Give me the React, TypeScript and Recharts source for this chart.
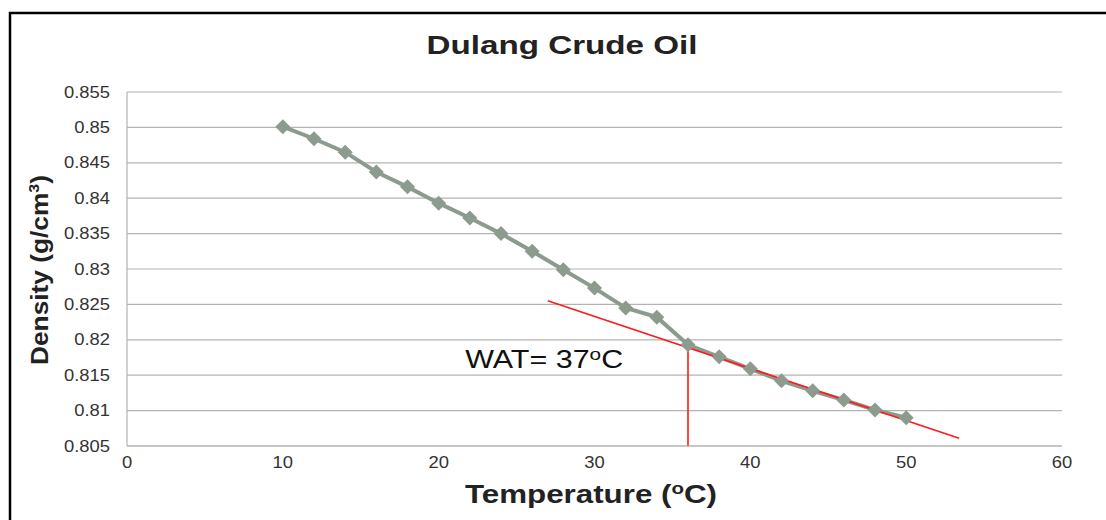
import {
  ComposedChart,
  Line,
  XAxis,
  YAxis,
  CartesianGrid,
  ReferenceLine,
  ReferenceDot,
} from "recharts";

// Measured density vs. temperature
const temperatures = [10, 12, 14, 16, 18, 20, 22, 24, 26, 28, 30, 32, 34, 36, 38, 40, 42, 44, 46, 48, 50];
const densities = [
  0.8501, 0.8484, 0.8465, 0.8437, 0.8416, 0.8393, 0.8372, 0.835, 0.8325, 0.8299, 0.8273,
  0.8245, 0.8232, 0.8193, 0.8176, 0.8159, 0.8142, 0.8128, 0.8115, 0.8101, 0.809,
];

// Hand-drawn tangent along the low-temperature tail and the WAT marker
const tangentStart = { x: 27.0, y: 0.8255 };
const tangentEnd = { x: 53.4, y: 0.8061 };
const watTemp = 36;
const watDensity = 0.8189;

const xTicks = [0, 10, 20, 30, 40, 50, 60];
const yTicks = [0.805, 0.81, 0.815, 0.82, 0.825, 0.83, 0.835, 0.84, 0.845, 0.85, 0.855];

const chartData = temperatures.map((t, i) => ({ temp: t, density: densities[i] }));

const LINE_COLOR = "#8d9b8f";
const FONT = "Arial, 'Liberation Sans', sans-serif";

const Diamond = (props: any) => {
  const { cx, cy } = props;
  if (cx == null || cy == null) return null;
  const r = 7.5;
  return (
    <path
      d={`M${cx},${cy - r} L${cx + r},${cy} L${cx},${cy + r} L${cx - r},${cy} Z`}
      fill={LINE_COLOR}
      stroke="none"
    />
  );
};

// Tick labels are slightly widened
const YTick = (props: any) => {
  const { x, y, payload } = props;
  return (
    <text
      transform={`translate(${x},${y}) scale(1.15,1)`}
      textAnchor="end"
      dy="0.35em"
      fontSize={16}
      fontFamily={FONT}
      fill="#333"
    >
      {Number(payload.value.toFixed(3)).toString()}
    </text>
  );
};

const XTick = (props: any) => {
  const { x, y, payload } = props;
  return (
    <text
      transform={`translate(${x},${y}) scale(1.15,1)`}
      textAnchor="middle"
      dy="0.71em"
      fontSize={16}
      fontFamily={FONT}
      fill="#333"
    >
      {payload.value}
    </text>
  );
};

const WatLabel = (props: any) => {
  const { viewBox } = props;
  if (!viewBox) return null;
  const x = viewBox.x + viewBox.width / 2;
  const y = viewBox.y + viewBox.height / 2;
  return (
    <text
      x={x}
      y={y}
      fontSize={25}
      fontFamily={FONT}
      fill="#111"
      textLength={158}
      lengthAdjust="spacingAndGlyphs"
    >
      WAT= 37
      <tspan fontSize={17} dy={-8}>o</tspan>
      <tspan dy={8}>C</tspan>
    </text>
  );
};

export default function App() {
  return (
    <div style={{ position: "absolute", left: 0, top: 0, width: 1106, height: 520, background: "#fff" }}>
      <svg width={1106} height={520} style={{ position: "absolute", left: 0, top: 0 }}>
        <rect x={10} y={13} width={1106} height={540} fill="none" stroke="#000" strokeWidth={2.5} />
        <text
          x={562}
          y={54}
          textAnchor="middle"
          fontSize={26}
          fontWeight="bold"
          fontFamily={FONT}
          fill="#222"
          textLength={271}
          lengthAdjust="spacingAndGlyphs"
        >
          Dulang Crude Oil
        </text>
        <text
          x={591}
          y={503}
          textAnchor="middle"
          fontSize={26}
          fontWeight="bold"
          fontFamily={FONT}
          fill="#222"
          textLength={252}
          lengthAdjust="spacingAndGlyphs"
        >
          Temperature (
          <tspan fontSize={17} dy={-9}>o</tspan>
          <tspan dy={9}>C)</tspan>
        </text>
        <text
          transform="translate(48,270) rotate(-90)"
          textAnchor="middle"
          fontSize={23}
          fontWeight="bold"
          fontFamily={FONT}
          fill="#222"
          textLength={190}
          lengthAdjust="spacingAndGlyphs"
        >
          Density (g/cm
          <tspan fontSize={14} dy={-9}>3</tspan>
          <tspan dy={9}>)</tspan>
        </text>
      </svg>
      <div style={{ position: "absolute", left: 0, top: 0 }}>
        <ComposedChart
          width={1106}
          height={520}
          data={chartData}
          margin={{ top: 92, right: 44, left: 67, bottom: 44 }}
        >
          <CartesianGrid horizontal vertical={false} stroke="#b3b3b3" strokeWidth={1.2} />
          <XAxis
            dataKey="temp"
            type="number"
            domain={[0, 60]}
            ticks={xTicks}
            height={30}
            tickLine={false}
            tickSize={0}
            tickMargin={11}
            axisLine={{ stroke: "#b3b3b3", strokeWidth: 1.2 }}
            tick={<XTick />}
          />
          <YAxis
            type="number"
            domain={[0.805, 0.855]}
            ticks={yTicks}
            width={60}
            tickLine={false}
            tickSize={0}
            tickMargin={17}
            axisLine={{ stroke: "#b3b3b3", strokeWidth: 1.2 }}
            tick={<YTick />}
            allowDataOverflow
          />
          <Line
            dataKey="density"
            stroke={LINE_COLOR}
            strokeWidth={4}
            dot={<Diamond />}
            activeDot={false}
            isAnimationActive={false}
          />
          <ReferenceLine
            segment={[tangentStart, tangentEnd]}
            stroke="#ff1a1a"
            strokeWidth={1.6}
            ifOverflow="visible"
          />
          <ReferenceLine
            segment={[
              { x: watTemp, y: 0.805 },
              { x: watTemp, y: watDensity },
            ]}
            stroke="#ff1a1a"
            strokeWidth={1.6}
            ifOverflow="visible"
          />
          <ReferenceDot
            x={21.7}
            y={0.816}
            r={1}
            fill="none"
            stroke="none"
            label={<WatLabel />}
            ifOverflow="visible"
          />
        </ComposedChart>
      </div>
    </div>
  );
}
